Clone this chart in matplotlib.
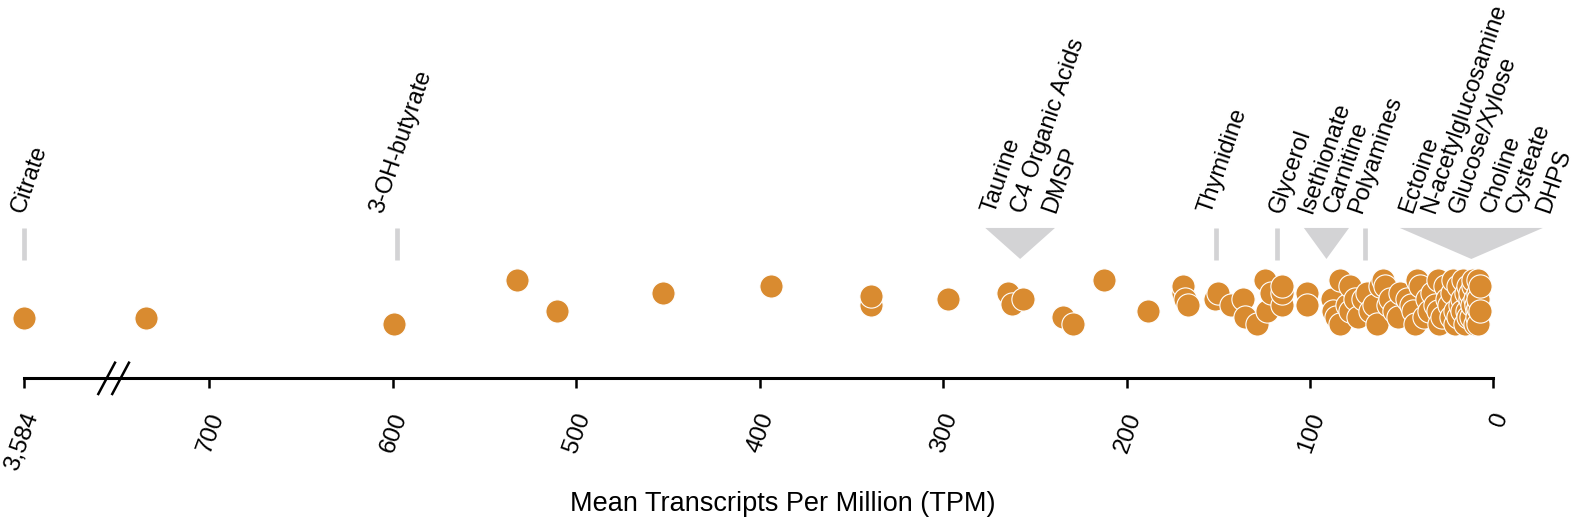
import numpy as np
import matplotlib.pyplot as plt
from matplotlib.patches import Polygon
from matplotlib.transforms import blended_transform_factory, ScaledTranslation

plt.rcParams['font.family'] = ['Liberation Sans', 'DejaVu Sans']

# mean TPM per transporter group (3,584 is drawn past the axis break)
tpm = [3584, 734.8, 599.4, 532.5, 510.7, 452.7, 393.8, 339.3, 339.3, 297.2,
       264.4, 262.3, 256.6, 234.8, 229.3, 212.3, 188.1,
       169.0, 169.0, 168.1, 166.6, 151.7, 150.1, 143.0, 136.3, 135.4, 129.0,
       124.5, 123.6, 121.4, 115.4, 115.4, 115.4, 101.7, 101.4,
       88.1, 87.2, 86.0, 83.6, 83.6, 80.0, 78.1, 78.1, 75.4, 74.0, 70.9, 69.0,
       67.2, 65.0, 63.6, 62.0, 60.0, 59.0, 57.3, 56.3, 54.0, 52.0, 50.9,
       47.2, 45.0, 43.6, 42.7, 41.8, 40.0, 38.0, 36.3, 35.0, 33.6, 32.0,
       30.0, 30.0, 29.4, 28.0, 26.3, 25.4, 24.0, 23.0, 22.7, 21.8, 20.9,
       20.9, 19.1, 19.0, 18.2, 17.2, 17.0, 16.4, 15.4, 15.0, 14.5, 14.0,
       13.6, 13.0, 12.7, 12.0, 11.8, 11.0, 10.9, 10.0, 10.0, 9.5, 9.1,
       9.0, 8.5, 8.2, 8.2, 8.2, 8.2, 7.3, 7.3]
# vertical jitter row of each dot (0 = top row)
jitter = [6.1, 6.1, 7, 0, 5, 2, 1, 2.6, 4, 3,
          2, 3.9, 3, 6, 7, 0, 5,
          1, 2, 3, 4, 3, 2, 4, 3, 6, 7,
          0, 5, 2, 1, 2, 4, 2, 4,
          3, 5, 6, 0, 7, 4, 1, 5, 3, 6, 3, 2,
          5, 4, 7, 1, 0, 1, 4, 3, 5, 6, 2,
          3, 4, 5, 7, 0, 1, 6, 3, 5, 2, 4,
          0, 5, 7, 6, 1, 3, 4, 6, 2, 0, 5,
          7, 1, 6, 4, 3, 5, 0, 7, 2, 5, 6,
          1, 3, 2, 6, 4, 1, 0, 7, 3, 4, 5,
          6, 2, 0, 3, 7, 4.5, 1, 5]

tick_vals = [3584, 700, 600, 500, 400, 300, 200, 100, 0]

# substrate labels and where their text starts (TPM scale)
label_names = ['Citrate', '3-OH-butyrate', 'Taurine', 'C4 Organic Acids', 'DMSP',
               'Thymidine', 'Glycerol', 'Isethionate', 'Carnitine', 'Polyamines',
               'Ectoine', 'N-acetylglucosamine', 'Glucose/Xylose', 'Choline',
               'Cysteate', 'DHPS']
label_pos = [801.0, 606.0, 271.8, 255.5, 239.1, 154.0, 115.3, 99.0, 85.3, 71.7,
             44.4, 31.9, 17.2, -0.3, -13.9, -30.3]
# single-substrate markers and grouped markers (tip, half width)
bar_tpm = [3584, 598, 151, 118, 70]
tri_tip = [258, 91, 12]
tri_half = [19, 12.3, 39]

BREAK_AT = 760
BREAK_POS = 801


def axis_pos(v):
    v = np.asarray(v, dtype=float)
    return np.where(v > BREAK_AT, BREAK_POS, v)


dot_color = '#D98B30'
grey = '#D3D3D5'

fig = plt.figure(figsize=(15.79, 5.31), dpi=100)
ax = fig.add_axes([0, 0.2876, 1, 0.7124])
ax.set_xlim(814.2, -46.7)
ax.set_ylim(15.81, -45.21)

order = np.argsort(tpm, kind='stable')[::-1]
ax.scatter(axis_pos(np.array(tpm)[order]), np.array(jitter)[order], s=280,
           color=dot_color, edgecolor='white', linewidth=0.8, zorder=3, clip_on=False)

for s in ['top', 'left', 'right']:
    ax.spines[s].set_visible(False)
ax.spines['bottom'].set_linewidth(2.2)
ax.spines['bottom'].set_bounds(0, BREAK_POS)
ax.set_yticks([])
ax.set_xticks(axis_pos(tick_vals))
ax.set_xticklabels(['{:,}'.format(t) for t in tick_vals])
ax.tick_params(axis='x', length=7.2, width=1.8, pad=18, labelsize=17.5, labelrotation=70)
shift = ScaledTranslation(6 / 72, 0, fig.dpi_scale_trans)
for lab in ax.get_xticklabels():
    lab.set_ha('right')
    lab.set_va('center')
    lab.set_rotation_mode('anchor')
    lab.set_transform(lab.get_transform() + shift)

blend = blended_transform_factory(ax.transData, ax.transAxes)

# axis break marks
for dx in [0, 7.6]:
    ax.plot([760.6 - dx, 751.5 - dx], [-0.0415, 0.0412], transform=blend,
            color='black', lw=1.8, clip_on=False)

for b in bar_tpm:
    x = float(axis_pos(b))
    ax.plot([x, x], [0.3127, 0.398], transform=blend, color=grey, lw=3.4,
            solid_capstyle='butt', clip_on=False)
for c, hw in zip(tri_tip, tri_half):
    ax.add_patch(Polygon([(c - hw, 0.3974), (c + hw, 0.3974), (c, 0.3154)],
                         closed=True, transform=blend, facecolor=grey,
                         edgecolor='none', clip_on=False))

for name, p in zip(label_names, label_pos):
    ax.text(p, 0.4343, name, transform=blend, rotation=71, rotation_mode='anchor',
            ha='left', va='baseline', fontsize=17)

fig.text(783 / 1579, 0.05, 'Mean Transcripts Per Million (TPM)', ha='center',
         va='center', fontsize=19.5)

plt.savefig('out.png', dpi=100)
